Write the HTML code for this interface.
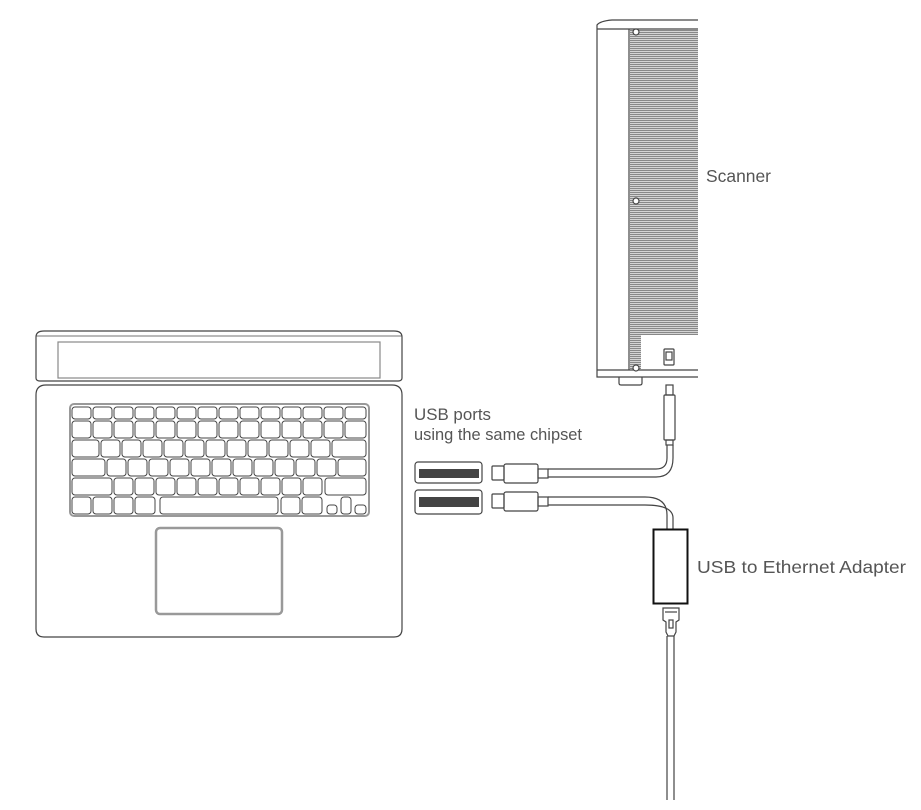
<!DOCTYPE html>
<html><head><meta charset="utf-8"><style>
html,body{margin:0;padding:0;background:#fff;}
svg{display:block}
text{font-family:"Liberation Sans",Arial,sans-serif;font-size:16px;fill:#555;}
</style></head><body>
<svg width="921" height="810" viewBox="0 0 921 810" xmlns="http://www.w3.org/2000/svg">
<defs>
<pattern id="gr" width="4" height="2" patternUnits="userSpaceOnUse">
<rect width="4" height="2" fill="#ddd"/><rect width="4" height="1.1" fill="#888"/>
</pattern>
</defs>
<g fill="none" stroke="#444" stroke-width="1.2">
<path d="M698 20 L612 20 Q600 21 597 25 L597 377 L698 377" />
<line x1="597" y1="29" x2="698" y2="29"/>
<line x1="629" y1="29" x2="629" y2="370"/>
<line x1="597" y1="370" x2="698" y2="370"/>
<rect x="630" y="30" width="68" height="305" fill="url(#gr)" stroke="none"/>
<rect x="630" y="335" width="11" height="34" fill="url(#gr)" stroke="none"/>
<circle cx="636" cy="32" r="3" fill="#fff"/>
<circle cx="636" cy="201" r="3" fill="#fff"/>
<circle cx="636" cy="368" r="3" fill="#fff"/>
<path d="M619 377 L619 383 Q619 385 621 385 L640 385 Q642 385 642 383 L642 377"/>
<rect x="664" y="349" width="10" height="16" rx="1"/>
<rect x="666" y="352" width="6" height="8"/>
<rect x="666" y="385" width="7" height="10"/>
<rect x="664" y="395" width="11" height="45" rx="1"/>
<rect x="666" y="440" width="7" height="5"/>
<path d="M667 445 L667 458 Q667 469 656 469 L548 469"/>
<path d="M673 445 L673 458 Q673 477 656 477 L548 477"/>
<rect x="415" y="462" width="67" height="21" rx="3"/>
<rect x="415" y="490" width="67" height="24" rx="3"/>
<rect x="492" y="466" width="12" height="14" rx="1"/>
<rect x="504" y="464" width="34" height="19" rx="2"/>
<rect x="538" y="469" width="10" height="9"/>
<rect x="492" y="494" width="12" height="14" rx="1"/>
<rect x="504" y="492" width="34" height="19" rx="2"/>
<rect x="538" y="497" width="10" height="9"/>
<path d="M548 497 L645 497 Q667 497 667 515 L667 529"/>
<path d="M548 505 L645 505 Q673 505 673 518 L673 529"/>
<path d="M663 608 L679 608 L679 620 L676 622 L676 632 L674 636 L668 636 L666 632 L666 622 L663 620 Z"/>
<line x1="665" y1="612" x2="677" y2="612"/>
<rect x="669" y="620" width="4" height="8"/>
<line x1="667" y1="636" x2="667" y2="800"/>
<line x1="674" y1="636" x2="674" y2="800"/>
<path d="M36 337 Q36 331 44 331 L394 331 Q402 331 402 337 L402 378 Q402 381 398 381 L40 381 Q36 381 36 378 Z"/>
<line x1="36" y1="336" x2="402" y2="336" stroke-width="0.8"/>
<rect x="58" y="342" width="322" height="36" stroke="#888"/>
<path d="M46 385 L392 385 Q402 385 402 395 L402 629 Q402 637 394 637 L44 637 Q36 637 36 629 L36 395 Q36 385 46 385 Z"/>
<rect x="70" y="404" width="299" height="112" rx="4" stroke="#999" stroke-width="2"/>
<rect x="156" y="528" width="126" height="86" rx="4" stroke="#999" stroke-width="2.5"/>
</g>
<g fill="#444"><rect x="419" y="469" width="60" height="9"/><rect x="419" y="497" width="60" height="10"/></g>
<rect x="653.5" y="529.5" width="34" height="74" fill="none" stroke="#111" stroke-width="2"/>
<g fill="#fff" stroke="#444" stroke-width="1">
<rect x="72" y="407" width="19" height="12" rx="3"/><rect x="93" y="407" width="19" height="12" rx="3"/><rect x="114" y="407" width="19" height="12" rx="3"/><rect x="135" y="407" width="19" height="12" rx="3"/><rect x="156" y="407" width="19" height="12" rx="3"/><rect x="177" y="407" width="19" height="12" rx="3"/><rect x="198" y="407" width="19" height="12" rx="3"/><rect x="219" y="407" width="19" height="12" rx="3"/><rect x="240" y="407" width="19" height="12" rx="3"/><rect x="261" y="407" width="19" height="12" rx="3"/><rect x="282" y="407" width="19" height="12" rx="3"/><rect x="303" y="407" width="19" height="12" rx="3"/><rect x="324" y="407" width="19" height="12" rx="3"/><rect x="345" y="407" width="21" height="12" rx="3"/>
<rect x="72" y="421" width="19" height="17" rx="3"/><rect x="93" y="421" width="19" height="17" rx="3"/><rect x="114" y="421" width="19" height="17" rx="3"/><rect x="135" y="421" width="19" height="17" rx="3"/><rect x="156" y="421" width="19" height="17" rx="3"/><rect x="177" y="421" width="19" height="17" rx="3"/><rect x="198" y="421" width="19" height="17" rx="3"/><rect x="219" y="421" width="19" height="17" rx="3"/><rect x="240" y="421" width="19" height="17" rx="3"/><rect x="261" y="421" width="19" height="17" rx="3"/><rect x="282" y="421" width="19" height="17" rx="3"/><rect x="303" y="421" width="19" height="17" rx="3"/><rect x="324" y="421" width="19" height="17" rx="3"/><rect x="345" y="421" width="21" height="17" rx="3"/>
<rect x="72" y="440" width="27" height="17" rx="3"/><rect x="101" y="440" width="19" height="17" rx="3"/><rect x="122" y="440" width="19" height="17" rx="3"/><rect x="143" y="440" width="19" height="17" rx="3"/><rect x="164" y="440" width="19" height="17" rx="3"/><rect x="185" y="440" width="19" height="17" rx="3"/><rect x="206" y="440" width="19" height="17" rx="3"/><rect x="227" y="440" width="19" height="17" rx="3"/><rect x="248" y="440" width="19" height="17" rx="3"/><rect x="269" y="440" width="19" height="17" rx="3"/><rect x="290" y="440" width="19" height="17" rx="3"/><rect x="311" y="440" width="19" height="17" rx="3"/><rect x="332" y="440" width="34" height="17" rx="3"/>
<rect x="72" y="459" width="33" height="17" rx="3"/><rect x="107" y="459" width="19" height="17" rx="3"/><rect x="128" y="459" width="19" height="17" rx="3"/><rect x="149" y="459" width="19" height="17" rx="3"/><rect x="170" y="459" width="19" height="17" rx="3"/><rect x="191" y="459" width="19" height="17" rx="3"/><rect x="212" y="459" width="19" height="17" rx="3"/><rect x="233" y="459" width="19" height="17" rx="3"/><rect x="254" y="459" width="19" height="17" rx="3"/><rect x="275" y="459" width="19" height="17" rx="3"/><rect x="296" y="459" width="19" height="17" rx="3"/><rect x="317" y="459" width="19" height="17" rx="3"/><rect x="338" y="459" width="28" height="17" rx="3"/>
<rect x="72" y="478" width="40" height="17" rx="3"/><rect x="114" y="478" width="19" height="17" rx="3"/><rect x="135" y="478" width="19" height="17" rx="3"/><rect x="156" y="478" width="19" height="17" rx="3"/><rect x="177" y="478" width="19" height="17" rx="3"/><rect x="198" y="478" width="19" height="17" rx="3"/><rect x="219" y="478" width="19" height="17" rx="3"/><rect x="240" y="478" width="19" height="17" rx="3"/><rect x="261" y="478" width="19" height="17" rx="3"/><rect x="282" y="478" width="19" height="17" rx="3"/><rect x="303" y="478" width="19" height="17" rx="3"/><rect x="325" y="478" width="41" height="17" rx="3"/>
<rect x="72" y="497" width="19" height="17" rx="3"/><rect x="93" y="497" width="19" height="17" rx="3"/><rect x="114" y="497" width="19" height="17" rx="3"/><rect x="135" y="497" width="20" height="17" rx="3"/><rect x="160" y="497" width="118" height="17" rx="3"/><rect x="281" y="497" width="19" height="17" rx="3"/><rect x="302" y="497" width="20" height="17" rx="3"/>
<rect x="327" y="505" width="10" height="9" rx="3"/><rect x="341" y="497" width="10" height="17" rx="3"/><rect x="355" y="505" width="11" height="9" rx="3"/>
</g>
<text x="706" y="182" style="font-size:17.5px" textLength="65" lengthAdjust="spacingAndGlyphs">Scanner</text>
<text x="414" y="420" style="font-size:17px" textLength="77" lengthAdjust="spacingAndGlyphs">USB ports</text>
<text x="414" y="440" style="font-size:17px" textLength="168" lengthAdjust="spacingAndGlyphs">using the same chipset</text>
<text x="697" y="573" style="font-size:17.5px" textLength="209" lengthAdjust="spacingAndGlyphs">USB to Ethernet Adapter</text>
</svg>
</body></html>
